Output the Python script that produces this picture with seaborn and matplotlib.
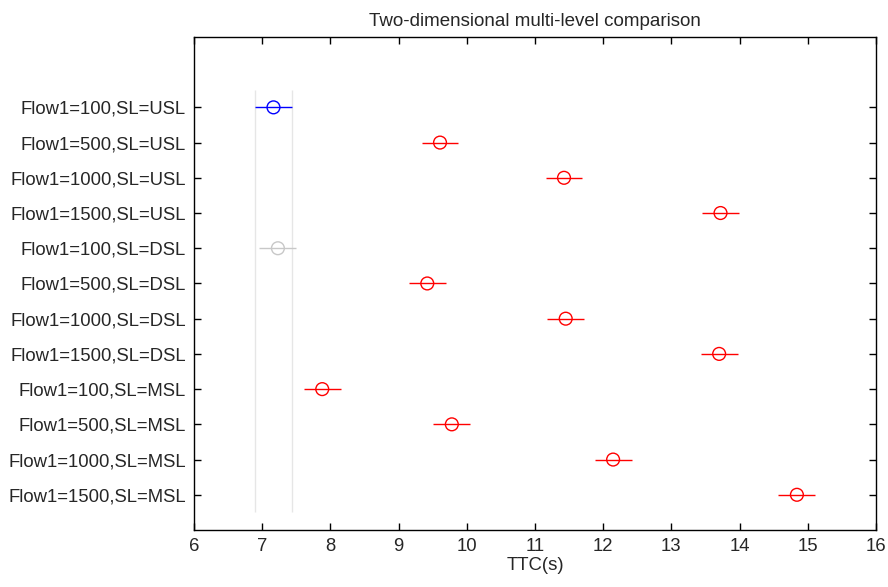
import matplotlib
matplotlib.use("Agg")
import matplotlib.pyplot as plt
import seaborn as sns
import pandas as pd
import numpy as np

sns.set_theme(style="white")
plt.rcParams["font.family"] = ["Liberation Sans", "DejaVu Sans"]

groups = [
    "Flow1=100,SL=USL", "Flow1=500,SL=USL", "Flow1=1000,SL=USL", "Flow1=1500,SL=USL",
    "Flow1=100,SL=DSL", "Flow1=500,SL=DSL", "Flow1=1000,SL=DSL", "Flow1=1500,SL=DSL",
    "Flow1=100,SL=MSL", "Flow1=500,SL=MSL", "Flow1=1000,SL=MSL", "Flow1=1500,SL=MSL",
]
means = [7.165, 9.607, 11.425, 13.72, 7.23, 9.42, 11.45, 13.70, 7.88, 9.78, 12.145, 14.84]
half_width = [0.27] * 12
status = ["selected", "diff", "diff", "diff", "same", "diff", "diff", "diff",
          "diff", "diff", "diff", "diff"]
x_ticks = [6, 7, 8, 9, 10, 11, 12, 13, 14, 15, 16]

palette = {"selected": "#0000ff", "diff": "#ff0000", "same": "#c8c8c8"}

n = len(groups)
df = pd.DataFrame({
    "group": groups,
    "mean": means,
    "lo": np.array(means) - np.array(half_width),
    "hi": np.array(means) + np.array(half_width),
    "status": status,
    "ypos": np.arange(n, 0, -1),
})

fig = plt.figure(figsize=(8.88, 5.87), dpi=100)
ax = fig.add_axes([0.2185, 0.0971, 0.768, 0.84])

# comparison band around the selected group's interval
sel = df[df["status"] == "selected"].iloc[0]
ax.vlines([sel["lo"], sel["hi"]], 0.5, n + 0.5, colors="#e6e6e6", linewidth=1.0, zorder=1)

for _, r in df.iterrows():
    ax.hlines(r["ypos"], r["lo"], r["hi"], colors=palette[r["status"]], linewidth=1.0, zorder=2)

sns.scatterplot(data=df, x="mean", y="ypos", hue="status", palette=palette,
                marker="o", s=85, facecolors="none", linewidth=1.0,
                legend=False, ax=ax, zorder=3)
# hollow circles drawn with the group colours as edges
coll = ax.collections[-1]
coll.set_edgecolors([palette[s] for s in df["status"]])
coll.set_facecolors("none")

ax.set_xlim(6, 16)
ax.set_ylim(0, 14)
ax.set_xticks(x_ticks)
ax.set_xticklabels([str(t) for t in x_ticks], fontsize=13.3)
ax.set_yticks(df["ypos"])
ax.set_yticklabels(df["group"], fontsize=13.3)
ax.tick_params(axis="both", direction="in", length=5, width=1, color="black",
               top=True, right=True, bottom=True, left=True, pad=6)
ax.set_xlabel("TTC(s)", fontsize=13.3, labelpad=1)
ax.set_ylabel("")
ax.set_title("Two-dimensional multi-level comparison", fontsize=13.5, pad=8)
for sp in ax.spines.values():
    sp.set_color("black")
    sp.set_linewidth(1.0)

fig.savefig("out.png", dpi=100)
